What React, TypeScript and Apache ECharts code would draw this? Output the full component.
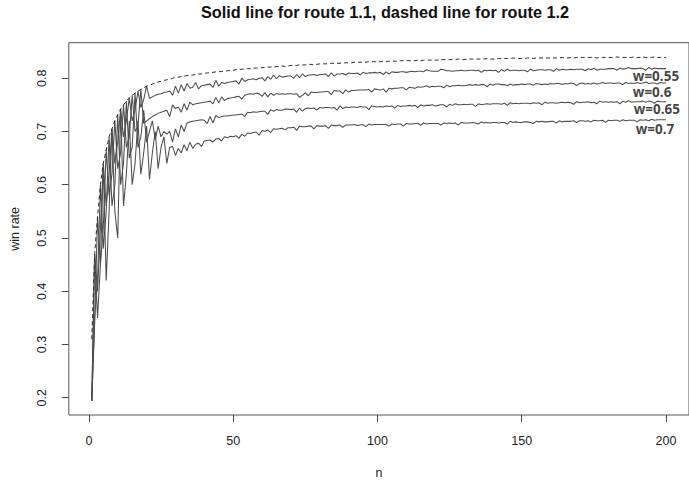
import React, { useEffect, useRef } from "react";
import * as echarts from "echarts";

// win rate for route 1.1, w = 0.55 (n = 1..200)
const w055: number[] = [
  0.194,0.47,0.40,0.52,0.64,0.56,0.62,0.705,0.64,0.68,
  0.742,0.69,0.72,0.763,0.72,0.74,0.776,0.745,0.76,0.785,
  0.762,0.765,0.768,0.770,0.771,0.773,0.774,0.776,0.768,0.785,
  0.772,0.788,0.776,0.790,0.781,0.783,0.792,0.780,0.786,0.787,
  0.788,0.789,0.783,0.796,0.785,0.792,0.790,0.792,0.793,0.794,
  0.795,0.789,0.800,0.794,0.797,0.798,0.799,0.797,0.800,0.801,
  0.795,0.803,0.798,0.806,0.799,0.805,0.802,0.803,0.804,0.804,
  0.800,0.807,0.801,0.808,0.803,0.806,0.806,0.807,0.805,0.807,
  0.807,0.808,0.803,0.810,0.804,0.808,0.808,0.809,0.806,0.810,
  0.809,0.809,0.810,0.806,0.811,0.809,0.810,0.810,0.811,0.810,
  0.811,0.807,0.812,0.808,0.812,0.811,0.811,0.812,0.812,0.811,
  0.812,0.813,0.812,0.813,0.813,0.812,0.816,0.814,0.813,0.813,
  0.813,0.817,0.816,0.814,0.814,0.813,0.814,0.814,0.815,0.814,
  0.814,0.815,0.815,0.814,0.815,0.811,0.815,0.814,0.815,0.814,
  0.815,0.811,0.816,0.813,0.817,0.814,0.815,0.815,0.814,0.815,
  0.815,0.812,0.817,0.814,0.815,0.816,0.816,0.815,0.816,0.816,
  0.813,0.818,0.815,0.817,0.816,0.816,0.817,0.816,0.817,0.817,
  0.817,0.814,0.818,0.816,0.819,0.815,0.817,0.817,0.817,0.818,
  0.818,0.818,0.815,0.819,0.817,0.818,0.820,0.818,0.818,0.818,
  0.819,0.818,0.815,0.820,0.817,0.819,0.818,0.818,0.818,0.818,
];

// w = 0.6
const w060: number[] = [
  0.194,0.34,0.54,0.45,0.52,0.665,0.58,0.62,0.72,0.63,
  0.66,0.75,0.67,0.69,0.768,0.70,0.71,0.779,0.715,0.720,
  0.724,0.728,0.731,0.734,0.736,0.738,0.740,0.728,0.750,0.743,
  0.746,0.736,0.752,0.740,0.755,0.750,0.752,0.753,0.754,0.755,
  0.756,0.757,0.752,0.764,0.754,0.765,0.758,0.762,0.763,0.764,
  0.765,0.766,0.761,0.768,0.770,0.771,0.770,0.772,0.771,0.766,
  0.773,0.765,0.772,0.768,0.771,0.770,0.771,0.770,0.771,0.771,
  0.770,0.771,0.764,0.768,0.773,0.767,0.774,0.773,0.773,0.774,
  0.774,0.775,0.775,0.769,0.777,0.776,0.776,0.771,0.778,0.774,
  0.777,0.777,0.778,0.778,0.778,0.778,0.779,0.774,0.780,0.779,
  0.778,0.780,0.774,0.781,0.780,0.781,0.781,0.782,0.782,0.778,
  0.783,0.782,0.781,0.784,0.783,0.784,0.786,0.783,0.785,0.784,
  0.785,0.785,0.782,0.787,0.784,0.786,0.786,0.787,0.786,0.786,
  0.787,0.788,0.787,0.788,0.787,0.788,0.788,0.784,0.789,0.787,
  0.789,0.789,0.788,0.788,0.786,0.789,0.787,0.788,0.788,0.789,
  0.788,0.789,0.789,0.787,0.790,0.789,0.788,0.789,0.788,0.790,
  0.789,0.790,0.790,0.788,0.790,0.789,0.791,0.790,0.786,0.790,
  0.791,0.789,0.790,0.789,0.791,0.789,0.790,0.792,0.790,0.791,
  0.791,0.790,0.791,0.791,0.788,0.792,0.790,0.791,0.790,0.792,
  0.790,0.791,0.793,0.790,0.791,0.791,0.789,0.792,0.791,0.791,
];

// w = 0.65
const w065: number[] = [
  0.194,0.35,0.42,0.60,0.48,0.55,0.69,0.56,0.60,0.732,
  0.60,0.64,0.757,0.65,0.67,0.772,0.67,0.69,0.74,0.68,
  0.70,0.72,0.685,0.71,0.69,0.70,0.695,0.70,0.68,0.705,
  0.69,0.712,0.70,0.716,0.718,0.719,0.720,0.721,0.722,0.721,
  0.715,0.728,0.716,0.730,0.726,0.728,0.729,0.729,0.730,0.731,
  0.731,0.732,0.733,0.728,0.736,0.735,0.737,0.736,0.737,0.738,
  0.738,0.732,0.741,0.738,0.741,0.740,0.740,0.742,0.742,0.741,
  0.742,0.736,0.744,0.738,0.743,0.744,0.743,0.744,0.740,0.745,
  0.744,0.745,0.745,0.744,0.745,0.740,0.748,0.743,0.746,0.745,
  0.746,0.746,0.745,0.747,0.746,0.746,0.741,0.748,0.747,0.746,
  0.747,0.746,0.748,0.747,0.748,0.744,0.749,0.747,0.748,0.748,
  0.749,0.748,0.749,0.745,0.750,0.748,0.749,0.749,0.750,0.748,
  0.749,0.750,0.750,0.746,0.751,0.749,0.752,0.750,0.750,0.751,
  0.750,0.751,0.751,0.747,0.752,0.750,0.751,0.752,0.751,0.752,
  0.752,0.752,0.751,0.753,0.749,0.754,0.752,0.753,0.752,0.753,
  0.753,0.753,0.752,0.754,0.753,0.754,0.750,0.755,0.753,0.754,
  0.754,0.753,0.754,0.755,0.754,0.755,0.754,0.751,0.756,0.754,
  0.755,0.755,0.756,0.754,0.755,0.752,0.757,0.755,0.756,0.755,
  0.756,0.755,0.756,0.752,0.757,0.755,0.758,0.755,0.756,0.756,
  0.756,0.757,0.755,0.757,0.756,0.753,0.757,0.756,0.756,0.756,
];

// w = 0.7
const w070: number[] = [
  0.194,0.47,0.35,0.45,0.64,0.42,0.55,0.705,0.55,0.50,
  0.742,0.56,0.62,0.72,0.60,0.64,0.72,0.62,0.66,0.71,
  0.61,0.66,0.70,0.63,0.67,0.69,0.64,0.67,0.672,0.655,
  0.668,0.660,0.675,0.664,0.680,0.668,0.676,0.678,0.672,0.682,
  0.683,0.684,0.680,0.686,0.687,0.682,0.690,0.688,0.691,0.690,
  0.692,0.687,0.695,0.691,0.697,0.696,0.698,0.699,0.693,0.702,
  0.700,0.703,0.698,0.705,0.704,0.705,0.706,0.703,0.707,0.707,
  0.708,0.702,0.710,0.709,0.709,0.710,0.710,0.705,0.711,0.710,
  0.710,0.711,0.706,0.712,0.711,0.711,0.712,0.708,0.712,0.712,
  0.712,0.713,0.711,0.712,0.713,0.709,0.714,0.712,0.713,0.713,
  0.713,0.713,0.713,0.710,0.714,0.713,0.714,0.714,0.710,0.715,
  0.714,0.714,0.715,0.715,0.712,0.716,0.714,0.715,0.715,0.715,
  0.715,0.712,0.716,0.715,0.716,0.715,0.716,0.712,0.717,0.716,
  0.716,0.716,0.717,0.716,0.714,0.718,0.716,0.717,0.716,0.717,
  0.717,0.716,0.717,0.717,0.714,0.719,0.717,0.718,0.717,0.717,
  0.718,0.718,0.717,0.715,0.719,0.718,0.719,0.718,0.718,0.719,
  0.719,0.716,0.720,0.718,0.719,0.719,0.719,0.720,0.717,0.720,
  0.720,0.719,0.720,0.718,0.721,0.720,0.720,0.721,0.717,0.721,
  0.720,0.721,0.721,0.719,0.722,0.720,0.721,0.721,0.721,0.718,
  0.722,0.721,0.722,0.720,0.723,0.721,0.722,0.722,0.722,0.722,
];

// route 1.2 (dashed)
const route12: number[] = [
  0.31,0.47,0.54,0.60,0.64,0.665,0.69,0.705,0.72,0.732,
  0.742,0.750,0.757,0.763,0.768,0.772,0.776,0.779,0.782,0.785,
  0.787,0.789,0.791,0.793,0.794,0.796,0.797,0.798,0.800,0.801,
  0.802,0.803,0.804,0.805,0.805,0.806,0.807,0.808,0.808,0.809,
  0.810,0.810,0.811,0.812,0.812,0.813,0.813,0.814,0.815,0.815,
  0.816,0.816,0.817,0.817,0.818,0.818,0.819,0.819,0.819,0.820,
  0.820,0.821,0.821,0.821,0.822,0.822,0.823,0.822,0.823,0.824,
  0.824,0.824,0.825,0.825,0.825,0.826,0.826,0.825,0.826,0.827,
  0.827,0.827,0.827,0.828,0.828,0.828,0.828,0.829,0.829,0.829,
  0.829,0.830,0.830,0.830,0.830,0.830,0.831,0.831,0.831,0.831,
  0.831,0.832,0.831,0.832,0.832,0.832,0.832,0.833,0.833,0.833,
  0.833,0.833,0.833,0.834,0.833,0.834,0.834,0.834,0.834,0.834,
  0.834,0.835,0.835,0.835,0.835,0.835,0.835,0.836,0.835,0.835,
  0.836,0.836,0.836,0.836,0.836,0.836,0.836,0.837,0.836,0.836,
  0.836,0.837,0.837,0.837,0.837,0.837,0.838,0.837,0.837,0.837,
  0.837,0.838,0.838,0.837,0.838,0.838,0.838,0.838,0.838,0.838,
  0.838,0.838,0.838,0.839,0.838,0.838,0.839,0.838,0.839,0.839,
  0.839,0.839,0.839,0.839,0.839,0.838,0.839,0.839,0.839,0.839,
  0.839,0.839,0.840,0.839,0.839,0.839,0.839,0.839,0.840,0.839,
  0.839,0.840,0.839,0.839,0.839,0.840,0.839,0.839,0.839,0.839,
];

const xTicks = [0, 50, 100, 150, 200];
const yTicks = [0.2, 0.3, 0.4, 0.5, 0.6, 0.7, 0.8];

const labelTexts = ["w=0.55", "w=0.6", "w=0.65", "w=0.7"];
const labelN = [188.5, 188.5, 188.8, 189.5];
const labelY = [0.805, 0.774, 0.743, 0.704];

const toPairs = (vals: number[]) => vals.map((v, i) => [i + 1, v]);

export default function App() {
  const ref = useRef<HTMLDivElement>(null);
  useEffect(() => {
    if (!ref.current) return;
    const chart = echarts.init(ref.current, undefined, { renderer: "svg" });
    const axisFont = { fontFamily: "Liberation Sans", fontSize: 12.5, color: "#222" };
    const solidStyle = { color: "#4d4d4d", width: 1.05 };
    const solid = (name: string, vals: number[]) => ({
      name,
      type: "line",
      data: toPairs(vals),
      showSymbol: false,
      symbol: "none",
      lineStyle: solidStyle,
      itemStyle: { color: "#4d4d4d" },
      silent: true,
      z: 3,
    });
    chart.setOption({
      animation: false,
      backgroundColor: "#ffffff",
      title: {
        text: "Solid line for route 1.1, dashed line for route 1.2",
        left: 380,
        top: -1,
        textAlign: "center",
        textStyle: { fontFamily: "Liberation Sans", fontWeight: "bold", fontSize: 16.3, color: "#111" },
      },
      grid: {
        left: 68.8,
        top: 42.7,
        right: -2.4,
        bottom: 72,
        show: true,
        borderColor: "#555",
        borderWidth: 1,
        backgroundColor: "transparent",
      },
      xAxis: {
        type: "value",
        min: -6.96,
        max: 207.96,
        name: "n",
        nameLocation: "middle",
        nameGap: 51,
        nameTextStyle: axisFont,
        axisLine: { show: false, onZero: false },
        axisTick: { show: true, length: 7, lineStyle: { color: "#444" }, customValues: xTicks },
        axisLabel: { ...axisFont, margin: 19, customValues: xTicks, formatter: (v: number) => String(v) },
        splitLine: { show: false },
      },
      yAxis: {
        type: "value",
        min: 0.1676,
        max: 0.8667,
        name: "win rate",
        nameLocation: "middle",
        nameGap: 47,
        nameTextStyle: axisFont,
        axisLine: { show: false, onZero: false },
        axisTick: { show: true, length: 7, lineStyle: { color: "#444" }, customValues: yTicks },
        axisLabel: { ...axisFont, margin: 20, rotate: 90, customValues: yTicks, formatter: (v: number) => v.toFixed(1) },
        splitLine: { show: false },
      },
      series: [
        solid("w=0.55", w055),
        solid("w=0.6", w060),
        solid("w=0.65", w065),
        solid("w=0.7", w070),
        {
          name: "route 1.2",
          type: "line",
          data: toPairs(route12),
          showSymbol: false,
          symbol: "none",
          lineStyle: { color: "#2a2a2a", width: 1, type: [4, 3] },
          silent: true,
          z: 4,
        },
        {
          name: "labels",
          type: "scatter",
          symbolSize: 0,
          silent: true,
          z: 5,
          data: labelTexts.map((t, i) => ({ name: t, value: [labelN[i], labelY[i]] })),
          label: {
            show: true,
            position: "right",
            distance: 0,
            formatter: (p: any) => p.name,
            fontFamily: "Open Sans",
            fontWeight: "bold",
            fontSize: 13.5,
            color: "#111",
          },
        },
      ],
    });
    return () => chart.dispose();
  }, []);
  return <div ref={ref} style={{ position: "fixed", left: 0, top: 0, width: 689, height: 487, background: "#fff" }} />;
}
